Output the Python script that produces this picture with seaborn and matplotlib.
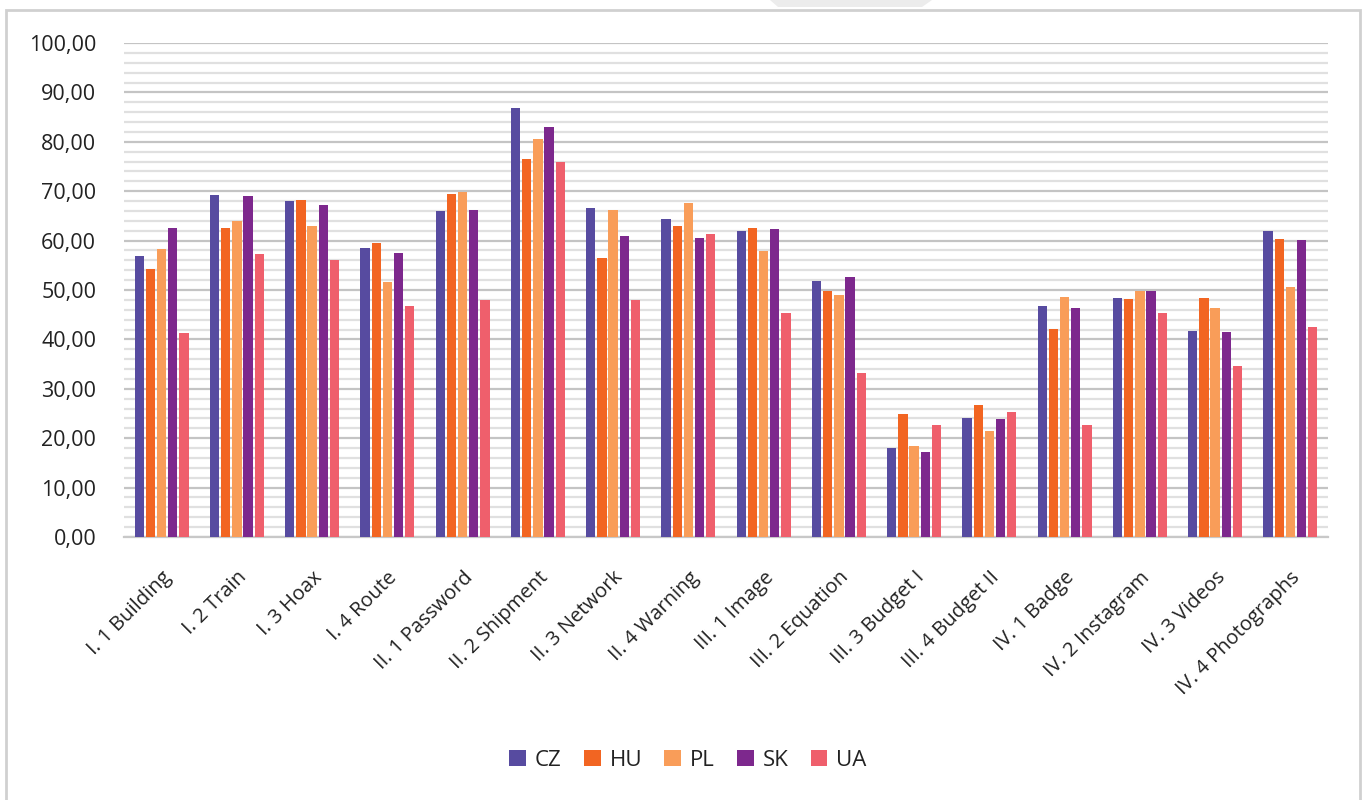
import numpy as np
import pandas as pd
import matplotlib
matplotlib.use("Agg")
import matplotlib.pyplot as plt
from matplotlib.patches import Rectangle, Polygon
from matplotlib.ticker import MultipleLocator, FuncFormatter
import seaborn as sns

# chart data
tasks = [
    "I. 1 Building", "I. 2 Train", "I. 3 Hoax", "I. 4 Route",
    "II. 1 Password", "II. 2 Shipment", "II. 3 Network", "II. 4 Warning",
    "III. 1 Image", "III. 2 Equation", "III. 3 Budget I", "III. 4 Budget II",
    "IV. 1 Badge", "IV. 2 Instagram", "IV. 3 Videos", "IV. 4 Photographs",
]
countries = ["CZ", "HU", "PL", "SK", "UA"]

cz = [56.8, 69.2, 68.0, 58.5, 65.9, 86.8, 66.6, 64.3, 61.9, 51.8, 18.1, 24.0, 46.7, 48.4, 41.8, 61.9]
hu = [54.3, 62.5, 68.2, 59.6, 69.4, 76.5, 56.4, 63.0, 62.6, 49.7, 24.8, 26.7, 42.1, 48.2, 48.4, 60.3]
pl = [58.4, 64.0, 62.9, 51.6, 69.9, 80.6, 66.1, 67.7, 57.8, 49.0, 18.5, 21.5, 48.5, 49.7, 46.4, 50.7]
sk = [62.6, 69.0, 67.2, 57.4, 66.2, 83.0, 60.9, 60.5, 62.3, 52.7, 17.3, 23.9, 46.4, 49.7, 41.4, 60.2]
ua = [41.2, 57.3, 56.1, 46.7, 48.0, 76.0, 48.0, 61.3, 45.3, 33.2, 22.7, 25.3, 22.7, 45.3, 34.7, 42.6]

colors = ["#574BA0", "#F26522", "#F99D59", "#7D288D", "#EF5F6C"]

series = {"CZ": cz, "HU": hu, "PL": pl, "SK": sk, "UA": ua}
df = pd.DataFrame(
    [(t, c, v) for c in countries for t, v in zip(tasks, series[c])],
    columns=["task", "country", "value"],
)

sns.set_style("white")
plt.rcParams["font.family"] = ["Open Sans", "DejaVu Sans"]

W, H = 1365, 800
fig = plt.figure(figsize=(W / 100, H / 100), dpi=100)
ax = fig.add_axes([124 / W, 1 - 537 / H, (1328 - 124) / W, (537 - 43) / H])

sns.barplot(
    data=df, x="task", y="value", hue="country",
    order=tasks, hue_order=countries, palette=colors,
    width=0.745, gap=0.17, saturation=1, errorbar=None,
    linewidth=0, ax=ax, zorder=3,
)

ax.set_ylim(0, 100)
ax.set_xlim(-0.5, len(tasks) - 0.5)
ax.yaxis.set_major_locator(MultipleLocator(10))
ax.yaxis.set_minor_locator(MultipleLocator(2))
ax.yaxis.set_major_formatter(FuncFormatter(lambda v, _: f"{v:.2f}".replace(".", ",")))
ax.grid(axis="y", which="major", color="#C4C4C4", linewidth=1.6, zorder=0)
ax.grid(axis="y", which="minor", color="#E0E0E0", linewidth=1.6, zorder=0)
ax.set_axisbelow(True)

for side in ["top", "right", "left"]:
    ax.spines[side].set_visible(False)
ax.spines["bottom"].set_color("#C8C8C8")
ax.spines["bottom"].set_linewidth(1.6)

ax.tick_params(axis="y", which="both", length=0, labelsize=15.5, pad=20, colors="#222222")
ax.tick_params(axis="x", length=0, labelsize=14.5, pad=22, colors="#222222")
plt.setp(ax.get_xticklabels(), rotation=45, ha="right", rotation_mode="anchor")
ax.set_xlabel("")
ax.set_ylabel("")

ax.legend(
    loc="center", bbox_to_anchor=(688 / W, 1 - 760 / H), bbox_transform=fig.transFigure,
    ncol=5, frameon=False, fontsize=16, handlelength=0.75, handleheight=0.75,
    handletextpad=0.4, columnspacing=1.0, labelcolor="#222222",
)

# outer frame and the little shadow at the top
fig.patches.append(Rectangle((6 / W, -0.05), 1354 / W, 1 - 10 / H + 0.05,
                             transform=fig.transFigure, fill=False,
                             edgecolor="#D0D0D0", linewidth=2))
fig.patches.append(Polygon([(770 / W, 1.0), (932 / W, 1.0), (922 / W, 1 - 7 / H),
                            (778 / W, 1 - 7 / H)],
                           transform=fig.transFigure, facecolor="#ECECEC", edgecolor="none"))

fig.savefig("out.png", dpi=100)
